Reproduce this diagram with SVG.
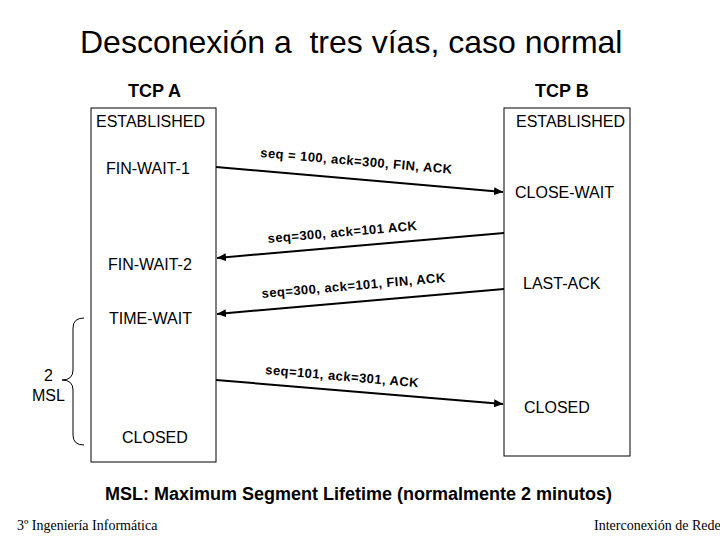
<svg xmlns="http://www.w3.org/2000/svg" width="720" height="540" viewBox="0 0 720 540">
<defs>
<style>
.t{font-family:"Liberation Sans",Arial,sans-serif;fill:#000}
.st{font-size:16px}
.lb{font-size:13px;font-weight:bold;letter-spacing:0.45px}
.ln{stroke:#000;stroke-width:2;fill:none}
.box{fill:#fff;stroke:#000;stroke-width:1}
.ft{font-family:"Liberation Serif","Times New Roman",serif;font-size:14px;fill:#000}
</style>
<marker id="ah" markerUnits="userSpaceOnUse" markerWidth="10" markerHeight="8" refX="9" refY="4" orient="auto">
<path d="M0,0 L9,4 L0,8 Z" fill="#000"/>
</marker>
</defs>
<rect width="720" height="540" fill="#fff"/>
<text class="t" x="80" y="53" font-size="32">Desconexión a&#160; tres vías, caso normal</text>
<g id="tcpA">
<text class="t" x="128" y="97" font-size="18" font-weight="bold">TCP A</text>
<rect class="box" x="91" y="108" width="125" height="354"/>
<text class="t st" x="96" y="127">ESTABLISHED</text>
<text class="t st" x="106" y="174">FIN-WAIT-1</text>
<text class="t st" x="108" y="270">FIN-WAIT-2</text>
<text class="t st" x="109" y="324">TIME-WAIT</text>
<text class="t st" x="122" y="443">CLOSED</text>
</g>
<g id="tcpB">
<text class="t" x="535" y="97" font-size="18" font-weight="bold">TCP B</text>
<rect class="box" x="504" y="108" width="126" height="348"/>
<text class="t st" x="516" y="127">ESTABLISHED</text>
<text class="t st" x="515" y="198">CLOSE-WAIT</text>
<text class="t st" x="523" y="289">LAST-ACK</text>
<text class="t st" x="524" y="413">CLOSED</text>
</g>
<g id="msl">
<path d="M84,318 Q73,318 73,328 L73,370 Q73,380 62,380 Q73,380 73,390 L73,435 Q73,445 84,445" fill="none" stroke="#000" stroke-width="1"/>
<text class="t st" x="44" y="381">2</text>
<text class="t st" x="32" y="401">MSL</text>
</g>
<g id="connectors">
<line class="ln" x1="216" y1="167" x2="503" y2="192" marker-end="url(#ah)"/>
<line class="ln" x1="504" y1="233" x2="217" y2="258" marker-end="url(#ah)"/>
<line class="ln" x1="504" y1="289" x2="217" y2="314" marker-end="url(#ah)"/>
<line class="ln" x1="216" y1="380" x2="503" y2="404" marker-end="url(#ah)"/>
<text class="t lb" transform="translate(260,157) rotate(5)">seq = 100, ack=300, FIN, ACK</text>
<text class="t lb" transform="translate(268,243) rotate(-5)">seq=300, ack=101 ACK</text>
<text class="t lb" transform="translate(262,298) rotate(-5)">seq=300, ack=101, FIN, ACK</text>
<text class="t lb" transform="translate(265,374) rotate(5)">seq=101, ack=301, ACK</text>
</g>
<text class="t" x="105" y="500" font-size="18" font-weight="bold">MSL: Maximum Segment Lifetime (normalmente 2 minutos)</text>
<text class="ft" x="17" y="530">3º Ingeniería Informática</text>
<text class="ft" x="594" y="530">Interconexión de Rede</text>
</svg>
